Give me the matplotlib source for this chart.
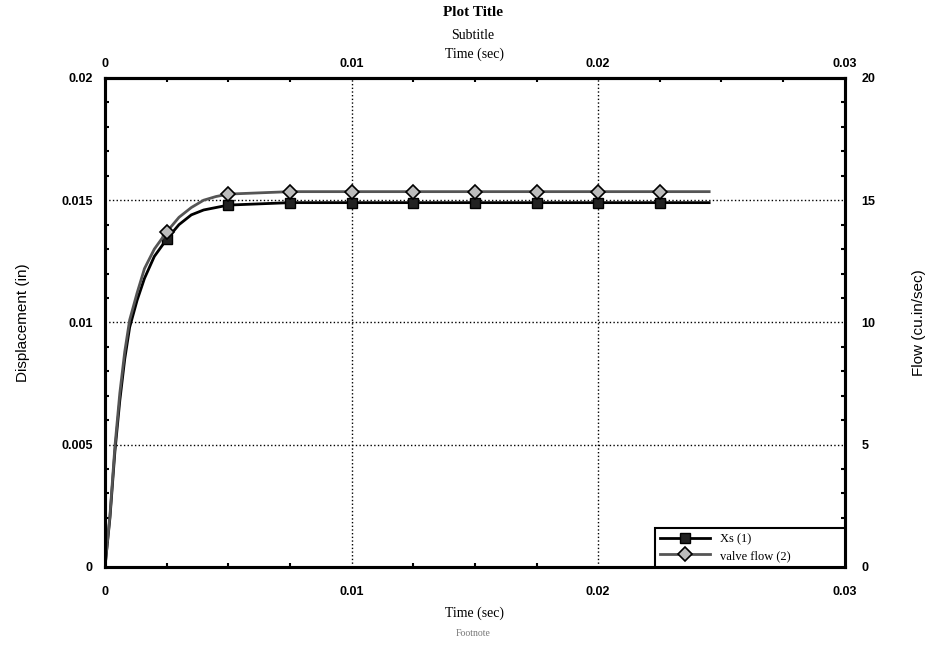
import numpy as np
import matplotlib
matplotlib.use("Agg")
import matplotlib.pyplot as plt
from matplotlib.ticker import AutoMinorLocator, FixedLocator

# values
time_s = [0, 0.0002, 0.0004, 0.0006, 0.0008, 0.001, 0.0013, 0.0016, 0.002,
          0.0025, 0.003, 0.0035, 0.004, 0.0045, 0.005, 0.0075, 0.01, 0.0125,
          0.015, 0.0175, 0.02, 0.0225, 0.0245]
xs_disp = [0, 0.0020, 0.0047, 0.0068, 0.0085, 0.0098, 0.0109, 0.0118, 0.0127,
           0.0134, 0.0140, 0.0144, 0.0146, 0.0147, 0.0148, 0.0149, 0.0149, 0.0149,
           0.0149, 0.0149, 0.0149, 0.0149, 0.0149]
valve_flow = [0, 2.1, 4.9, 7.1, 8.8, 10.1, 11.2, 12.2, 13.0,
              13.7, 14.3, 14.7, 15.0, 15.15, 15.25, 15.35, 15.35, 15.35,
              15.35, 15.35, 15.35, 15.35, 15.35]
marker_idx = [9, 14, 15, 16, 17, 18, 19, 20, 21]

x_ticks = [0, 0.01, 0.02, 0.03]
x_labels = ["0", "0.01", "0.02", "0.03"]
y_ticks = [0, 0.005, 0.01, 0.015, 0.02]
y_labels = ["0", "0.005", "0.01", "0.015", "0.02"]
flow_ticks = [0, 5, 10, 15, 20]

serif = "Liberation Serif"
sans = "Liberation Sans"

fig = plt.figure(figsize=(9.46, 6.5), dpi=100)
ax = fig.add_axes([0.111, 0.128, 0.782, 0.752])
ax2 = ax.twinx()

l1, = ax.plot(time_s, xs_disp, color="black", lw=2, marker="s", ms=7,
              mfc="#222222", mec="black", markevery=marker_idx, label="Xs (1)")
l2, = ax2.plot(time_s, valve_flow, color="#555555", lw=2, marker="D", ms=7,
               mfc="#bbbbbb", mec="black", mew=1.2, markevery=marker_idx,
               label="valve flow (2)")

ax.set_xlim(0, 0.03)
ax.set_ylim(0, 0.02)
ax2.set_ylim(0, 20)

ax.xaxis.set_major_locator(FixedLocator(x_ticks))
ax.set_xticklabels(x_labels)
ax.yaxis.set_major_locator(FixedLocator(y_ticks))
ax.set_yticklabels(y_labels)
ax2.yaxis.set_major_locator(FixedLocator(flow_ticks))
ax2.set_yticklabels([str(v) for v in flow_ticks])
ax.xaxis.set_minor_locator(AutoMinorLocator(4))
ax.yaxis.set_minor_locator(AutoMinorLocator(5))
ax2.yaxis.set_minor_locator(AutoMinorLocator(5))

ax.grid(True, which="major", linestyle=":", color="black", lw=1)
ax.tick_params(axis="y", which="major", length=0, pad=9)
ax.tick_params(axis="x", which="major", length=0, pad=14)
ax.tick_params(which="minor", direction="in", length=3, width=1.5)
ax2.tick_params(which="major", length=0, pad=12)
ax2.tick_params(which="minor", direction="in", length=3, width=1.5)

for a in (ax, ax2):
    for sp in a.spines.values():
        sp.set_linewidth(2.2)

for lab in ax.get_xticklabels() + ax.get_yticklabels() + ax2.get_yticklabels():
    lab.set_fontfamily(sans)
    lab.set_fontweight("bold")
    lab.set_fontsize(9)

# top axis, same scale as bottom
top = ax.secondary_xaxis("top")
top.xaxis.set_major_locator(FixedLocator(x_ticks))
top.set_xticklabels(x_labels)
top.xaxis.set_minor_locator(AutoMinorLocator(4))
top.tick_params(which="major", length=0, pad=6)
top.tick_params(which="minor", direction="in", length=3, width=1.5)
top.spines["top"].set_linewidth(2.2)
for lab in top.get_xticklabels():
    lab.set_fontfamily(sans)
    lab.set_fontweight("bold")
    lab.set_fontsize(9)
top.set_xlabel("Time (sec)", fontfamily=serif, fontsize=10, labelpad=0)

ax.set_xlabel("Time (sec)", fontfamily=serif, fontsize=10, labelpad=6)
ax.set_ylabel("Displacement (in)", fontfamily=sans, fontsize=11, labelpad=22)
ax2.set_ylabel("Flow (cu.in/sec)", fontfamily=sans, fontsize=11, labelpad=26)

fig.text(0.5, 0.99, "Plot Title", ha="center", va="top", fontfamily=serif,
         fontweight="bold", fontsize=11)
fig.text(0.5, 0.955, "Subtitle", ha="center", va="top", fontfamily=serif, fontsize=10)
fig.text(0.5, 0.033, "Footnote", ha="center", va="top", fontfamily=serif,
         fontsize=7, color="#777777")

leg = ax2.legend(handles=[l1, l2], loc="lower left",
                 bbox_to_anchor=(0.743, 0, 0.257, 0.09), mode="expand",
                 borderaxespad=0, prop={"family": serif, "size": 9},
                 fancybox=False, edgecolor="black", framealpha=1,
                 handlelength=4, handletextpad=0.8, labelspacing=0.35)
leg.get_frame().set_linewidth(1.5)

fig.savefig("out.png", dpi=100)
